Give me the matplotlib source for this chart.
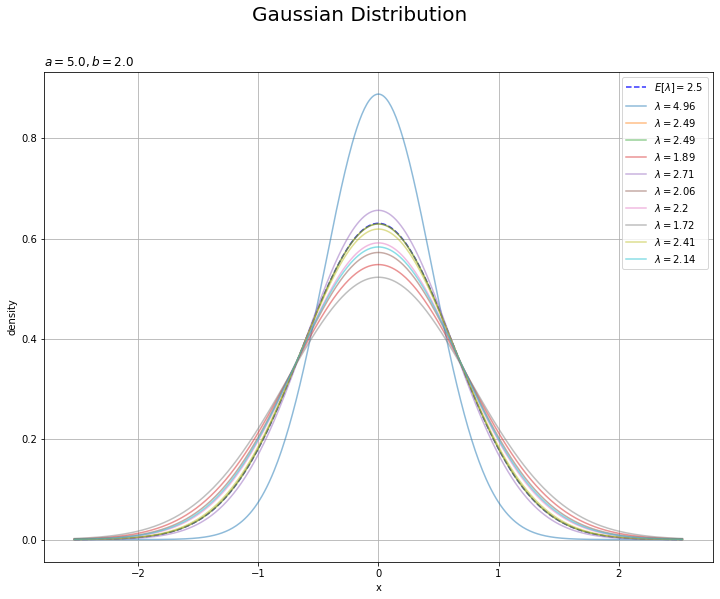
import numpy as np
import matplotlib.pyplot as plt

# prior parameters and sampled precisions
a = 5.0
b = 2.0
mean_lam = 2.5
lams = [4.96, 2.49, 2.49, 1.89, 2.71, 2.06, 2.2, 1.72, 2.41, 2.14]
x_max = 2.53


def gauss(x, lam):
    return np.sqrt(lam / (2 * np.pi)) * np.exp(-lam * x ** 2 / 2)


x = np.linspace(-x_max, x_max, 500)

fig, ax = plt.subplots(figsize=(10, 8.32), dpi=72)
fig.patch.set_facecolor('white')
fig.suptitle('Gaussian Distribution', fontsize=20, y=0.99)

ax.plot(x, gauss(x, mean_lam), color='b', linestyle='--', alpha=0.8,
        label='$E[\\lambda] = ' + str(mean_lam) + '$')
for lam in lams:
    ax.plot(x, gauss(x, lam), alpha=0.5, label='$\\lambda = ' + str(lam) + '$')

ax.set_xlabel('x')
ax.set_ylabel('density')
ax.set_title('$a = ' + str(a) + ', b = ' + str(b) + '$', loc='left')
ax.legend(loc='upper right')
ax.grid()

fig.subplots_adjust(left=0.061, right=0.990, bottom=0.062, top=0.880)
plt.savefig('out.png')
